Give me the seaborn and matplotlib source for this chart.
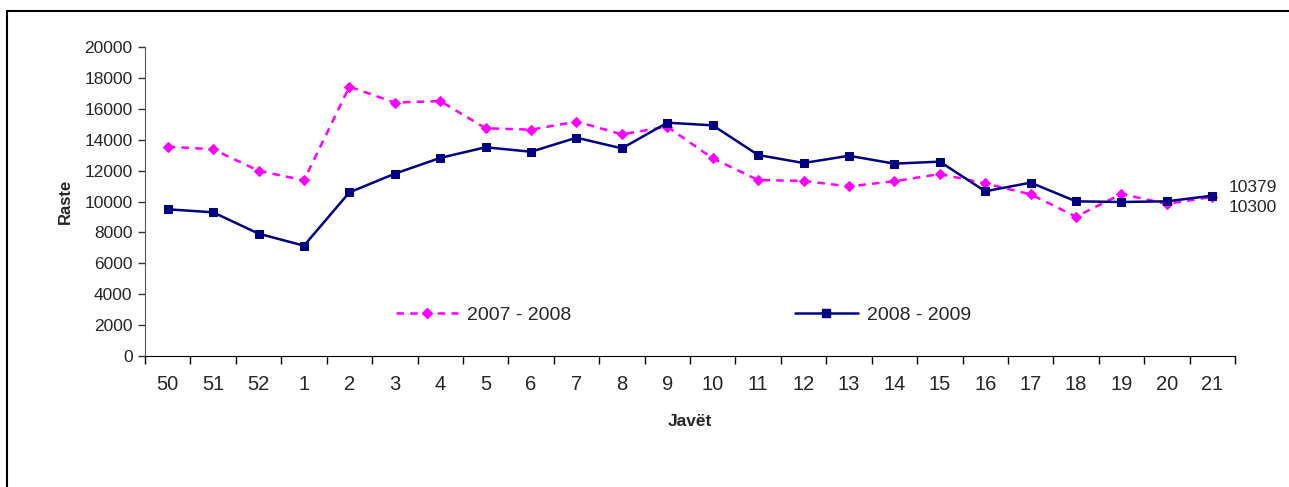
import numpy as np
import pandas as pd
import matplotlib
matplotlib.use("Agg")
import matplotlib.pyplot as plt
from matplotlib.lines import Line2D
import seaborn as sns

# weeks (x categories)
weeks = ["50", "51", "52", "1", "2", "3", "4", "5", "6", "7", "8", "9", "10",
         "11", "12", "13", "14", "15", "16", "17", "18", "19", "20", "21"]

# cases per week, season 2007 - 2008
cases_0708 = [13550, 13380, 11990, 11370, 17430, 16400, 16500, 14740, 14650, 15170,
              14350, 14840, 12790, 11390, 11330, 10980, 11310, 11780, 11170, 10460,
              9020, 10490, 9840, 10300]

# cases per week, season 2008 - 2009
cases_0809 = [9495, 9300, 7920, 7140, 10590, 11800, 12820, 13510, 13220, 14130,
              13440, 15100, 14930, 13010, 12490, 12960, 12450, 12580, 10660, 11220,
              10010, 9970, 10010, 10379]

series_names = ["2007 - 2008", "2008 - 2009"]

pos = np.arange(len(weeks))
df = pd.DataFrame({
    "pos": np.concatenate([pos, pos]),
    "Raste": cases_0708 + cases_0809,
    "sezoni": [series_names[0]] * len(weeks) + [series_names[1]] * len(weeks),
})

sns.set_style("white")
plt.rcParams["font.family"] = ["Liberation Sans", "DejaVu Sans"]

fig = plt.figure(figsize=(12.89, 4.87), dpi=100)
ax = fig.add_axes([145 / 1289, 1 - 356 / 487, (1235 - 145) / 1289, (356 - 47) / 487])

pink = "#FF00FF"
navy = "#000080"

d1 = df[df["sezoni"] == series_names[0]]
d2 = df[df["sezoni"] == series_names[1]]
sns.lineplot(data=d1, x="pos", y="Raste", ax=ax, color=pink, linestyle=(0, (3, 2.5)),
             linewidth=1.8, marker="D", markersize=5, markeredgecolor=pink)
sns.lineplot(data=d2, x="pos", y="Raste", ax=ax, color=navy, linestyle="-",
             linewidth=1.8, marker="s", markersize=5.5, markeredgecolor=navy)

ax.set_xlim(-0.5, len(weeks) - 0.5)
ax.set_ylim(0, 20000)
ax.set_yticks(np.arange(0, 20001, 2000))
ax.tick_params(axis="y", labelsize=12.5, length=5, width=1, color="#333333", pad=4,
               direction="out", left=True)
ax.set_xticks(pos)
ax.set_xticklabels(weeks)
ax.set_xticks(np.arange(-0.5, len(weeks), 1.0), minor=True)
ax.tick_params(axis="x", which="major", labelsize=14.5, length=0, pad=14)
ax.tick_params(axis="x", which="minor", length=6, width=1, color="black", direction="out",
               bottom=True)

for side in ["top", "right"]:
    ax.spines[side].set_visible(False)
ax.spines["left"].set_color("#555555")
ax.spines["bottom"].set_color("black")

ax.set_xlabel("Javët", fontsize=12.5, fontweight="bold", labelpad=14)
ax.set_ylabel("Raste", fontsize=12, fontweight="bold", labelpad=8)

# end labels
ax.annotate(str(cases_0809[-1]), (pos[-1], cases_0809[-1]), xytext=(12, 6),
            textcoords="offset points", fontsize=12.5, va="center", ha="left")
ax.annotate(str(cases_0708[-1]), (pos[-1], cases_0708[-1]), xytext=(12, -8),
            textcoords="offset points", fontsize=12.5, va="center", ha="left")

handles = [
    Line2D([], [], color=pink, linestyle=(0, (3, 2.5)), linewidth=1.8, marker="D",
           markersize=5),
    Line2D([], [], color=navy, linestyle="-", linewidth=1.8, marker="s", markersize=5.5),
]
ax.legend(handles, series_names, loc="center", bbox_to_anchor=(0.494, 0.133), ncol=2,
          frameon=False, fontsize=14, handlelength=3.2, columnspacing=11.5,
          handletextpad=0.5)

# outer frame of the chart area
fig.add_artist(Line2D([7 / 1289, 1], [1 - 11 / 487, 1 - 11 / 487], color="black",
                      linewidth=1.5, transform=fig.transFigure))
fig.add_artist(Line2D([7 / 1289, 7 / 1289], [0, 1 - 11 / 487], color="black",
                      linewidth=1.5, transform=fig.transFigure))

fig.savefig("out.png", dpi=100)
